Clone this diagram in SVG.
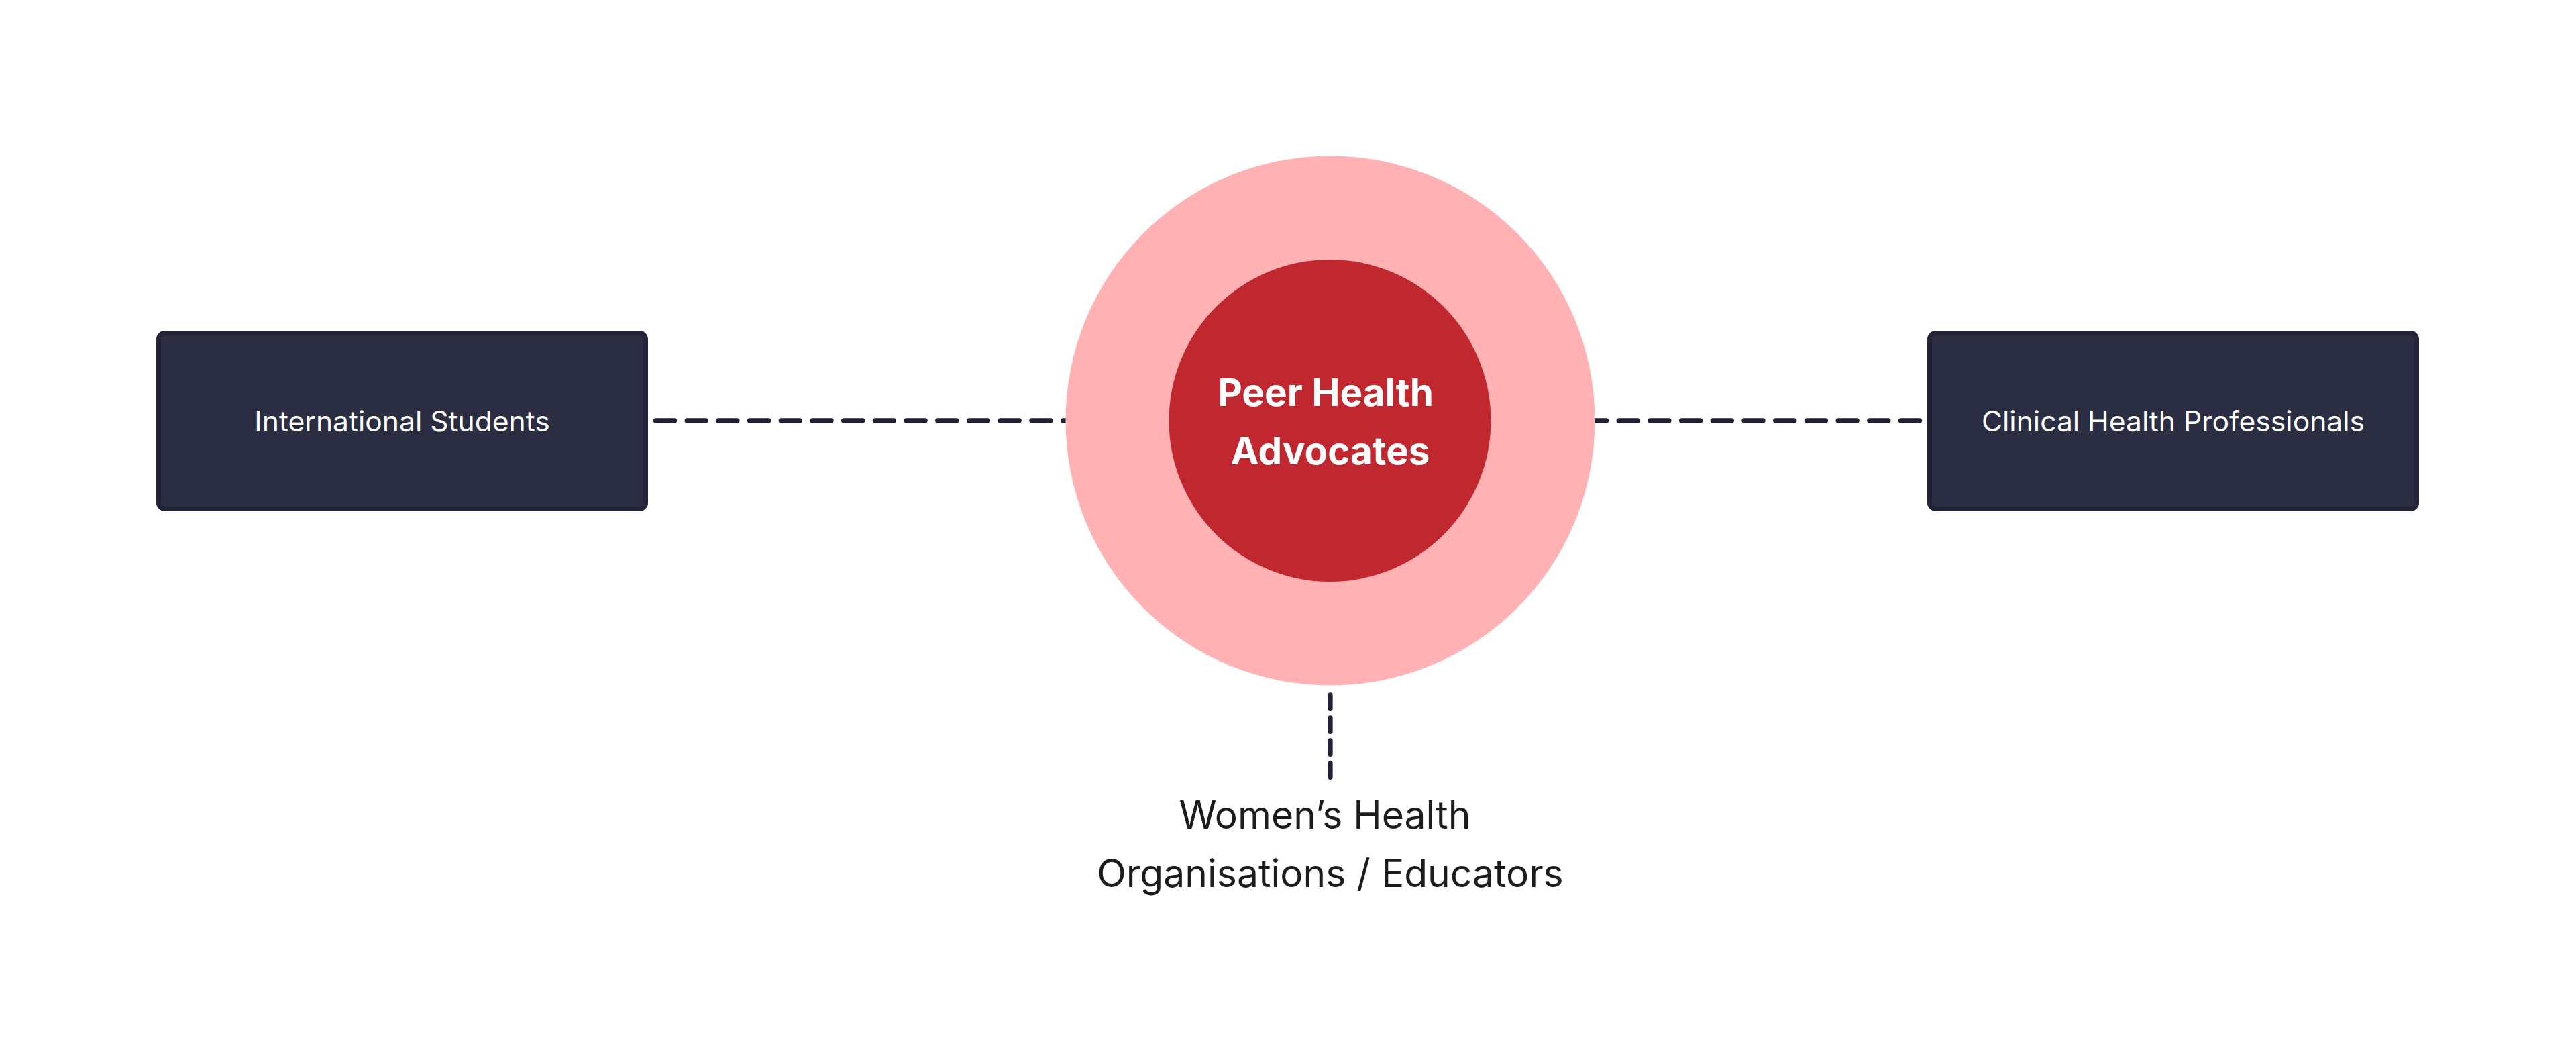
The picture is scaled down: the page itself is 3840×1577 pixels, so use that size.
<svg xmlns="http://www.w3.org/2000/svg" width="3840" height="1577" viewBox="0 0 3840 1577">
  <style>
    .conn { fill: none; stroke: #1f2034; stroke-width: 7.3; stroke-linecap: round; }
    .h { stroke-dasharray: 28 18.7; }
    .v { stroke-dasharray: 20.3 13.7; }
    .box { fill: #2b2e42; stroke: #222336; stroke-width: 7; }
    .boxlabel { font-family: Inter, "Noto Sans", "Liberation Sans", sans-serif; font-size: 42.6px; fill: #ffffff; text-anchor: middle; }
    .core { font-family: Inter, "Noto Sans", "Liberation Sans", sans-serif; font-size: 56.6px; font-weight: 700; fill: #ffffff; text-anchor: middle; }
    .plain { font-family: Inter, "Noto Sans", "Liberation Sans", sans-serif; font-size: 57px; fill: #1c1c1c; text-anchor: middle; }
  </style>
  <rect width="3840" height="1577" fill="#ffffff"/>
  <g id="connectors">
    <path class="conn h" d="M977.5 627 H1983"/>
    <path class="conn h" d="M2861.5 627 H1983"/>
    <path class="conn v" d="M1983 1036 V1158.6"/>
  </g>
  <g id="node-international-students">
    <rect class="box" x="236.5" y="496.5" width="726" height="262" rx="9"/>
    <text class="boxlabel" x="599.5" y="643">International Students</text>
  </g>
  <g id="node-peer-health-advocates">
    <circle cx="1983" cy="627" r="394.5" fill="#ffb1b4"/>
    <circle cx="1982.5" cy="627" r="240" fill="#c1272f"/>
    <text class="core" x="1976" y="605">Peer Health</text>
    <text class="core" x="1983" y="692">Advocates</text>
  </g>
  <g id="node-clinical-health-professionals">
    <rect class="box" x="2876.5" y="496.5" width="726" height="262" rx="9"/>
    <text class="boxlabel" x="3239.5" y="643">Clinical Health Professionals</text>
  </g>
  <g id="node-womens-health">
    <text class="plain" x="1975" y="1235">Women’s Health</text>
    <text class="plain" x="1983" y="1322">Organisations / Educators</text>
  </g>
</svg>
